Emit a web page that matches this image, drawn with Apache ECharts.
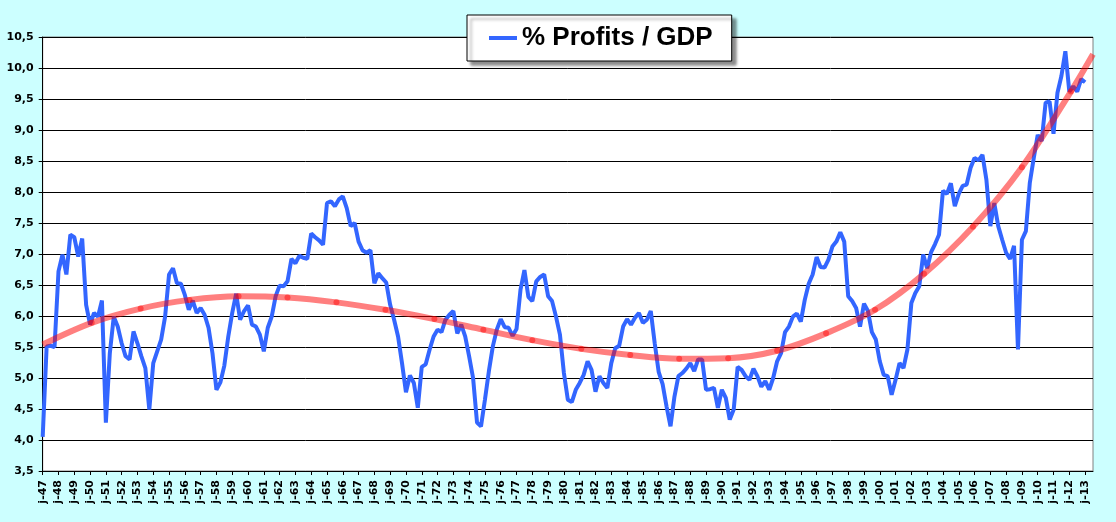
<!DOCTYPE html>
<html>
<head>
<meta charset="utf-8">
<script src="https://cdn.jsdelivr.net/npm/echarts@6/dist/echarts.min.js"></script>
<style>
html,body{margin:0;padding:0;background:#CCFFFF;}
#c{width:1116px;height:522px;}
</style>
</head>
<body>
<div id="c"></div>
<script>
// Year tick labels (one per January)
const tickLabels = ['j-47','j-48','j-49','j-50','j-51','j-52','j-53','j-54','j-55','j-56','j-57','j-58','j-59','j-60','j-61','j-62','j-63','j-64','j-65','j-66','j-67','j-68','j-69','j-70','j-71','j-72','j-73','j-74','j-75','j-76','j-77','j-78','j-79','j-80','j-81','j-82','j-83','j-84','j-85','j-86','j-87','j-88','j-89','j-90','j-91','j-92','j-93','j-94','j-95','j-96','j-97','j-98','j-99','j-00','j-01','j-02','j-03','j-04','j-05','j-06','j-07','j-08','j-09','j-10','j-11','j-12','j-13'];

// Quarterly % Profits / GDP, 1947 Q1 .. 2013 Q1
const profits = [
4.05,5.51,5.52,5.5,6.72,6.99,6.67,7.31,7.27,6.96,7.25,6.18,5.86,6.05,5.99,6.25,
4.28,5.4,5.99,5.83,5.56,5.35,5.3,5.75,5.56,5.35,5.16,4.49,5.24,5.43,5.62,5.99,
6.67,6.77,6.53,6.52,6.34,6.1,6.25,6.05,6.13,6.02,5.81,5.4,4.81,4.93,5.2,5.67,
6.05,6.36,5.94,6.08,6.17,5.86,5.83,5.7,5.43,5.81,5.99,6.32,6.49,6.48,6.56,6.92,
6.85,6.97,6.94,6.92,7.33,7.27,7.22,7.15,7.82,7.85,7.77,7.88,7.93,7.74,7.45,7.5,
7.2,7.06,7.02,7.06,6.53,6.69,6.61,6.54,6.18,5.94,5.67,5.24,4.77,5.04,4.92,4.52,
5.18,5.22,5.46,5.67,5.78,5.74,5.94,6.02,6.08,5.72,5.86,5.67,5.35,5.0,4.28,4.22,
4.65,5.11,5.51,5.78,5.95,5.82,5.81,5.68,5.79,6.42,6.74,6.31,6.24,6.56,6.63,6.67,
6.32,6.24,5.99,5.7,5.08,4.65,4.61,4.81,4.92,5.05,5.27,5.13,4.78,5.03,4.92,4.84,
5.24,5.48,5.52,5.83,5.95,5.86,5.97,6.05,5.89,5.94,6.08,5.56,5.1,4.9,4.54,4.22,
4.7,5.03,5.08,5.15,5.24,5.11,5.3,5.3,4.81,4.82,4.84,4.52,4.81,4.68,4.33,4.49,
5.18,5.13,5.03,4.97,5.15,5.03,4.86,4.95,4.81,5.0,5.27,5.4,5.74,5.83,5.99,6.04,
5.91,6.26,6.52,6.67,6.95,6.79,6.78,6.91,7.12,7.2,7.35,7.2,6.32,6.24,6.13,5.83,
6.2,6.08,5.74,5.62,5.27,5.05,5.03,4.73,4.97,5.24,5.16,5.46,6.21,6.37,6.48,6.99,
6.77,7.03,7.16,7.31,8.02,7.97,8.14,7.77,7.97,8.1,8.12,8.39,8.55,8.51,8.6,8.2,
7.45,7.82,7.45,7.23,7.02,6.92,7.13,5.46,7.23,7.37,8.15,8.55,8.92,8.82,9.44,9.46,
8.94,9.6,9.87,10.27,9.62,9.7,9.62,9.82,9.77
];

// Trend line: positions (in quarters from 1947 Q1) and values
const trendPos = [0,12.4,24.8,37.2,49.6,62,74.4,86.8,99.2,111.6,124,136.4,148.8,161.2,173.6,186,198.4,210.8,223.2,235.6,248,260.4,266];
const trendVal = [5.54,5.89,6.12,6.26,6.32,6.30,6.22,6.10,5.95,5.78,5.61,5.47,5.37,5.31,5.32,5.44,5.72,6.10,6.68,7.44,8.40,9.62,10.22];

const seriesName = '% Profits / GDP';

const categories = [];
tickLabels.forEach(l => { categories.push(l, l + ' T2', l + ' T3', l + ' T4'); });
categories.length = 267;

const trendData = trendPos.map((p, k) => {
  const item = { value: [p, trendVal[k]] };
  if (k === 0 || k === trendPos.length - 1) item.symbol = 'none';
  return item;
});

const FONT = '"Liberation Sans", Arial, sans-serif';
const AXFONT = '"DejaVu Sans", Verdana, sans-serif';
const chart = echarts.init(document.getElementById('c'), null, { renderer: 'canvas' });
chart.setOption({
  animation: false,
  backgroundColor: '#CCFFFF',
  grid: {
    left: 42.7, right: 23, top: 37, bottom: 51,
    show: true, backgroundColor: '#FFFFFF', borderColor: '#808080', borderWidth: 1
  },
  legend: {
    data: [seriesName],
    selectedMode: false,
    left: 467, top: 15,
    icon: 'rect', itemWidth: 28, itemHeight: 4,
    padding: [10, 19, 10, 22],
    backgroundColor: '#FFFFFF', borderColor: '#000000', borderWidth: 1,
    shadowColor: 'rgba(0,0,0,0.45)', shadowBlur: 3, shadowOffsetX: 4, shadowOffsetY: 4,
    textStyle: { fontFamily: FONT, fontSize: 26, fontWeight: 'bold', color: '#000' }
  },
  xAxis: [{
    type: 'category',
    data: categories,
    boundaryGap: false,
    axisLine: { lineStyle: { color: '#000', width: 1 } },
    axisTick: { show: true, interval: 3, length: 4, lineStyle: { color: '#000' } },
    axisLabel: {
      interval: 3, rotate: 90, margin: 9,
      fontFamily: AXFONT, fontSize: 11, fontWeight: 'bold', color: '#000'
    },
    splitLine: { show: false }
  }, {
    type: 'value', min: 0, max: 266, show: false
  }],
  yAxis: {
    type: 'value', min: 3.5, max: 10.5, interval: 0.5,
    axisLine: { show: true, lineStyle: { color: '#000', width: 1 } },
    axisTick: { show: true, length: 4, lineStyle: { color: '#000' } },
    axisLabel: {
      margin: 9, fontFamily: AXFONT, fontSize: 11, fontWeight: 'bold', color: '#000',
      formatter: v => v.toFixed(1).replace('.', ',')
    },
    splitLine: { show: true, lineStyle: { color: '#000', width: 1 } }
  },
  series: [{
    name: seriesName,
    type: 'line',
    xAxisIndex: 0,
    data: profits,
    showSymbol: false,
    symbol: 'none',
    color: '#3366FF',
    lineStyle: { color: '#3366FF', width: 4 },
    z: 2
  }, {
    name: 'trend',
    type: 'line',
    xAxisIndex: 1,
    data: trendData,
    smooth: 0.35,
    symbol: 'circle',
    symbolSize: 6,
    showSymbol: true,
    itemStyle: { color: 'rgba(255,0,0,0.45)', borderWidth: 0 },
    lineStyle: { color: 'rgba(255,0,0,0.5)', width: 6 },
    z: 3
  }]
});
</script>
</body>
</html>
